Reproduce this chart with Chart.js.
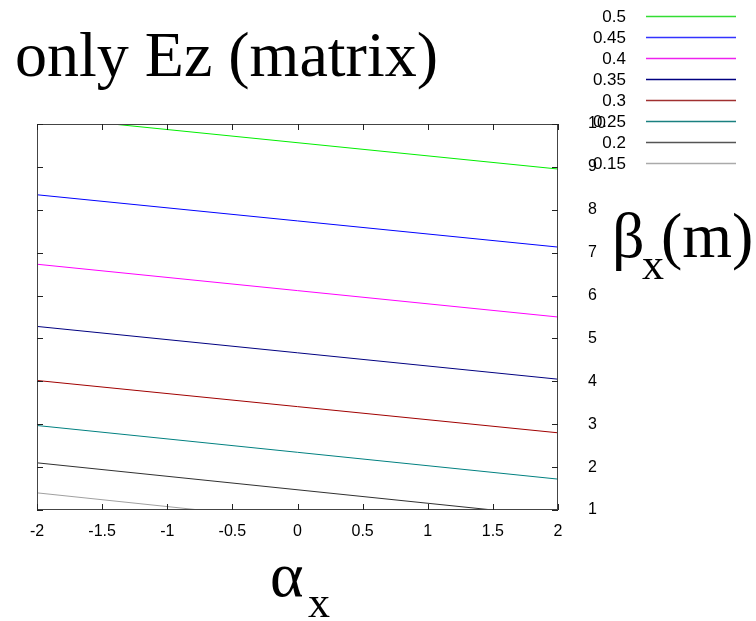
<!DOCTYPE html>
<html>
<head>
<meta charset="utf-8">
<script src="https://cdn.jsdelivr.net/npm/chart.js@4/dist/chart.umd.min.js"></script>
<style>
  html, body { margin: 0; padding: 0; background: #ffffff; }
  #wrap { position: relative; width: 756px; height: 621px; }
</style>
</head>
<body>
<div id="wrap"><canvas id="c" width="756" height="621"></canvas></div>
<script>
// ---- data ----
const contourLevels = ["0.5", "0.45", "0.4", "0.35", "0.3", "0.25", "0.2", "0.15"];
const alpha050 = [-1.42, 2];   const beta050 = [10.0, 8.95];
const alpha045 = [-2, 2];      const beta045 = [8.35, 7.13];
const alpha040 = [-2, 2];      const beta040 = [6.73, 5.50];
const alpha035 = [-2, 2];      const beta035 = [5.28, 4.05];
const alpha030 = [-2, 2];      const beta030 = [4.02, 2.80];
const alpha025 = [-2, 2];      const beta025 = [2.97, 1.72];
const alpha020 = [-2, 1.5];    const beta020 = [2.10, 1.00];
const alpha015 = [-2, -0.75];  const beta015 = [1.40, 1.00];
const xTickValues = [-2, -1.5, -1, -0.5, 0, 0.5, 1, 1.5, 2];
const yTickValues = [1, 2, 3, 4, 5, 6, 7, 8, 9, 10];

const seriesAlpha = [alpha050, alpha045, alpha040, alpha035, alpha030, alpha025, alpha020, alpha015];
const seriesBeta  = [beta050, beta045, beta040, beta035, beta030, beta025, beta020, beta015];
const seriesColor = ["#00ee00", "#0000ff", "#ff00ff", "#000080", "#a00000", "#008080", "#303030", "#a0a0a0"];
const legendColor = ["#33dd33", "#3333ff", "#ee22ee", "#000080", "#a03030", "#1a8080", "#555555", "#aaaaaa"];

const datasets = contourLevels.map((lab, i) => ({
  label: lab,
  data: seriesAlpha[i].map((a, j) => ({ x: a, y: seriesBeta[i][j] })),
  borderColor: seriesColor[i],
  backgroundColor: seriesColor[i],
  borderWidth: 1,
  pointRadius: 0,
  fill: false,
  tension: 0
}));

const decor = {
  id: 'decor',
  afterDraw(chart) {
    const ctx = chart.ctx;
    const a = chart.chartArea;
    const xs = chart.scales.x, ys = chart.scales.y;
    ctx.save();
    // frame
    ctx.strokeStyle = '#444444';
    ctx.lineWidth = 1;
    ctx.strokeRect(Math.round(a.left) + 0.5, Math.round(a.top) + 0.5,
                   Math.round(a.right - a.left) - 1, Math.round(a.bottom - a.top) - 1);
    // inward ticks
    ctx.strokeStyle = '#222222';
    ctx.beginPath();
    const tl = 6;
    xTickValues.forEach(v => {
      const px = Math.round(xs.getPixelForValue(v)) + 0.5;
      ctx.moveTo(px, a.bottom); ctx.lineTo(px, a.bottom - tl);
      ctx.moveTo(px, a.top); ctx.lineTo(px, a.top + tl);
    });
    yTickValues.forEach(v => {
      const py = Math.round(ys.getPixelForValue(v)) + 0.5;
      ctx.moveTo(a.left, py); ctx.lineTo(a.left + tl, py);
      ctx.moveTo(a.right, py); ctx.lineTo(a.right - tl, py);
    });
    ctx.stroke();

    // legend (label right-aligned, then line sample)
    ctx.font = '17px "Liberation Sans", Arial, sans-serif';
    ctx.textAlign = 'right';
    ctx.textBaseline = 'middle';
    chart.data.datasets.forEach((ds, i) => {
      const y = 16 + i * 21;
      ctx.fillStyle = '#000000';
      ctx.fillText(ds.label, 626, y + 1);
      ctx.strokeStyle = legendColor[i];
      ctx.lineWidth = 1.3;
      ctx.beginPath();
      ctx.moveTo(646, y + 0.5); ctx.lineTo(736, y + 0.5);
      ctx.stroke();
    });

    // title and axis titles
    ctx.fillStyle = '#000000';
    ctx.textAlign = 'left';
    ctx.textBaseline = 'alphabetic';
    ctx.font = '64px "Liberation Serif", "Times New Roman", serif';
    ctx.fillText('only Ez (matrix)', 15, 76);
    // alpha_x
    ctx.fillText('\u03B1', 270, 596);
    ctx.font = '44px "Liberation Serif", "Times New Roman", serif';
    ctx.fillText('x', 308, 617);
    // beta_x(m)
    ctx.font = '64px "Liberation Serif", "Times New Roman", serif';
    ctx.fillText('\u03B2', 612, 257);
    ctx.fillText('(m)', 661, 257);
    ctx.font = '44px "Liberation Serif", "Times New Roman", serif';
    ctx.fillText('x', 642, 279);
    ctx.restore();
  }
};

new Chart(document.getElementById('c'), {
  type: 'line',
  data: { datasets },
  options: {
    responsive: false,
    animation: false,
    layout: { padding: { left: 37, top: 124, right: 0, bottom: 0 } },
    plugins: { legend: { display: false }, tooltip: { enabled: false }, title: { display: false } },
    scales: {
      x: {
        type: 'linear', min: -2, max: 2,
        afterFit: s => { s.height = 111; },
        afterBuildTicks: s => { s.ticks = xTickValues.map(v => ({ value: v })); },
        grid: { display: false, drawTicks: false },
        border: { display: false },
        ticks: { padding: 12, color: '#000', font: { family: '"Liberation Sans", Arial, sans-serif', size: 16 },
                 maxRotation: 0, autoSkip: false,
                 callback: v => String(v) }
      },
      y: {
        type: 'linear', position: 'right', min: 1, max: 10,
        afterFit: s => { s.width = 198; },
        afterBuildTicks: s => { s.ticks = yTickValues.map(v => ({ value: v })); },
        grid: { display: false, drawTicks: false },
        border: { display: false },
        ticks: { padding: 30, color: '#000', font: { family: '"Liberation Sans", Arial, sans-serif', size: 16 },
                 autoSkip: false, callback: v => String(v) }
      }
    }
  },
  plugins: [decor]
});
</script>
</body>
</html>
